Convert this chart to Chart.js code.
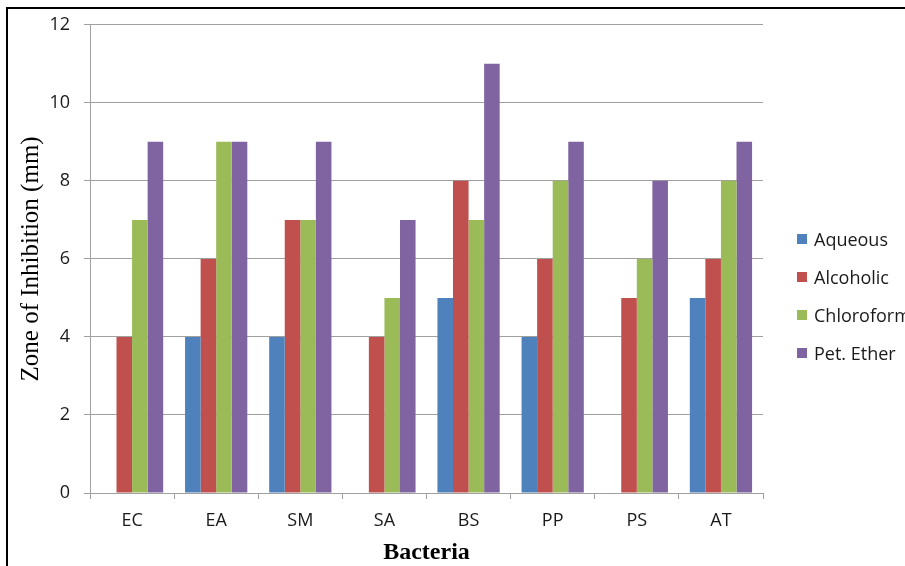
<!DOCTYPE html>
<html>
<head>
<meta charset="utf-8">
<script src="https://cdn.jsdelivr.net/npm/chart.js@4/dist/chart.umd.min.js"></script>
<style>
  html, body { margin: 0; padding: 0; background: #fff; }
  #wrap { position: relative; width: 905px; height: 566px; overflow: hidden; }
  #frame { position: absolute; left: 6px; top: 7px; width: 905px; height: 566px;
           border-left: 2px solid #000; border-top: 2px solid #000; pointer-events: none; }
  #chart { position: absolute; left: 0; top: 0; }
  #legend { position: absolute; left: 797px; top: 220px; margin: 0; padding: 0; list-style: none;
            font-family: "Open Sans", sans-serif; font-size: 18px; color: #1a1a1a; white-space: nowrap; }
  #legend li { height: 38px; display: flex; align-items: center; }
  #legend .box { width: 10px; height: 10px; margin-right: 7px; flex: none; }
</style>
</head>
<body>
<div id="wrap">
  <canvas id="chart" width="905" height="566"></canvas>
  <ul id="legend"></ul>
  <div id="frame"></div>
</div>
<script>
// Zone of inhibition (mm) per bacterial strain, for each extract type
const categories = ['EC', 'EA', 'SM', 'SA', 'BS', 'PP', 'PS', 'AT'];
const seriesNames = ['Aqueous', 'Alcoholic', 'Chloroform', 'Pet. Ether'];
const aqueous    = [0, 4, 4, 0, 5, 4, 0, 5];
const alcoholic  = [4, 6, 7, 4, 8, 6, 5, 6];
const chloroform = [7, 9, 7, 5, 7, 8, 6, 8];
const petEther   = [9, 9, 9, 7, 11, 9, 8, 9];
const yTickMin = 0, yTickMax = 12, yTickStep = 2;
const axisTitleY = 'Zone of Inhibition (mm)';
const axisTitleX = 'Bacteria';

const seriesColors = ['#4F81BD', '#C0504D', '#9BBB59', '#8064A2'];
const seriesValues = [aqueous, alcoholic, chloroform, petEther];

const gridColor = '#a0a0a0';
const textColor = '#1a1a1a';
const tickFont = { family: '"Open Sans", sans-serif', size: 18 };

// Builds the legend list beside the canvas from the chart's datasets
const htmlLegend = {
  id: 'htmlLegend',
  afterUpdate(chart) {
    const ul = document.getElementById('legend');
    ul.innerHTML = '';
    chart.data.datasets.forEach(ds => {
      const li = document.createElement('li');
      const box = document.createElement('span');
      box.className = 'box';
      box.style.background = ds.backgroundColor;
      const label = document.createElement('span');
      label.textContent = ds.label;
      li.appendChild(box);
      li.appendChild(label);
      ul.appendChild(li);
    });
  }
};

new Chart(document.getElementById('chart'), {
  type: 'bar',
  data: {
    labels: categories,
    datasets: seriesNames.map((name, i) => ({
      label: name,
      data: seriesValues[i],
      backgroundColor: seriesColors[i],
      borderWidth: 0,
      categoryPercentage: 0.74,
      barPercentage: 1.0
    }))
  },
  options: {
    responsive: false,
    animation: false,
    devicePixelRatio: 1,
    layout: { padding: { top: 22, right: 142, bottom: 0, left: 0 } },
    plugins: {
      legend: { display: false },
      tooltip: { enabled: false }
    },
    scales: {
      x: {
        offset: true,
        grid: { display: true, drawOnChartArea: false, drawTicks: true, tickLength: 6,
                color: gridColor, lineWidth: 1, offset: true },
        border: { display: true, color: gridColor, width: 1 },
        ticks: { color: textColor, font: tickFont, padding: 11, maxRotation: 0 },
        title: { display: true, text: axisTitleX, color: '#000',
                 font: { family: '"Liberation Serif", serif', size: 24, weight: 'bold', lineHeight: 1 },
                 padding: { top: 0, bottom: 1 } },
        afterFit(scale) { scale.height = 73; }
      },
      y: {
        min: yTickMin,
        max: yTickMax,
        ticks: { stepSize: yTickStep, color: textColor, font: tickFont, padding: 14 },
        grid: { color: gridColor, lineWidth: 1, tickLength: 6, drawTicks: true },
        border: { display: true, color: gridColor, width: 1 },
        title: { display: true, text: axisTitleY, color: '#000',
                 font: { family: '"Liberation Serif", serif', size: 25, lineHeight: 1.2 },
                 padding: { top: 16, bottom: 0 } },
        afterFit(scale) { scale.width = 90; }
      }
    }
  },
  plugins: [htmlLegend]
});
</script>
</body>
</html>
